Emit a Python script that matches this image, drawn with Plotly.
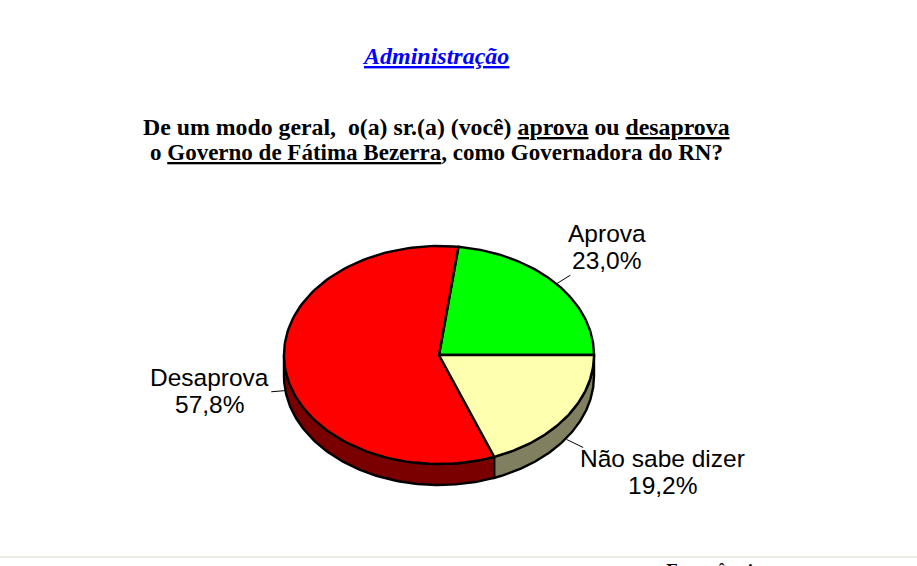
import math
import plotly.graph_objects as go

categories = ["Aprova", "Desaprova", "Não sabe dizer"]
values = [23.0, 57.8, 19.2]
value_labels = ["23,0%", "57,8%", "19,2%"]
top_colors = ["#00ff00", "#ff0000", "#ffffb0"]
side_colors = ["#007f00", "#7a0000", "#808060"]

W, H = 917, 566
CX, CY, RX, RY, DEPTH_PX = 439, 355, 155, 109, 21
DEPTH = DEPTH_PX / RY
x_range = [-CX / RX, (W - CX) / RX]
y_range = [-(H - CY) / RY, CY / RY]


def arc(a0, a1, dy=0.0, n=120):
    pts = [a0 + (a1 - a0) * i / n for i in range(n + 1)]
    return ([math.cos(math.radians(a)) for a in pts],
            [math.sin(math.radians(a)) + dy for a in pts])


fig = go.Figure()
angles = [0.0]
for v in values:
    angles.append(angles[-1] + v / sum(values) * 360)

# front wall of the disc
for i, cat in enumerate(categories):
    a0, a1 = max(angles[i], 180), min(angles[i + 1], 360)
    if a1 <= a0:
        continue
    xt, yt = arc(a0, a1)
    xb, yb = arc(a1, a0, -DEPTH)
    fig.add_trace(go.Scatter(x=xt + xb + xt[:1], y=yt + yb + yt[:1], mode="lines",
                             fill="toself", fillcolor=side_colors[i],
                             line=dict(color="black", width=2.4), hoverinfo="skip"))
# top slices
for i, cat in enumerate(categories):
    xa, ya = arc(angles[i], angles[i + 1])
    fig.add_trace(go.Scatter(x=[0] + xa + [0], y=[0] + ya + [0], mode="lines",
                             fill="toself", fillcolor=top_colors[i], name=cat,
                             line=dict(color="black", width=2.4)))

# leader lines from each slice's mid angle
leader_len = [1.13, 1.09, 1.13]
for i in range(3):
    m = math.radians((angles[i] + angles[i + 1]) / 2)
    dy = -DEPTH if math.sin(m) < 0 else 0
    c, s = math.cos(m), math.sin(m)
    k = leader_len[i]
    fig.add_trace(go.Scatter(x=[c, c * k], y=[s + dy - 0.015, s * k + dy - 0.015], mode="lines",
                             line=dict(color="black", width=1), hoverinfo="skip"))


def px_text(x, y, text, size, family, color="black", anchor="center"):
    fig.add_annotation(x=x / W, y=1 - y / H, xref="paper", yref="paper", text=text,
                       showarrow=False, xanchor=anchor, yanchor="middle",
                       font=dict(size=size, family=family, color=color))


sans = "Liberation Sans"
serif = "Liberation Serif"
label_pos = [(606.5, 233), (209.5, 377), (662.5, 458)]
for (x, y), c, v in zip(label_pos, categories, value_labels):
    px_text(x, y, c, 24.5, sans)
    px_text(x, y + 27.5, v, 24.5, sans)

px_text(435.5, 56, "<b><i><u>Administração</u></i></b>", 24, serif, "#0000ff")
px_text(436.5, 127, "<b>De um modo geral,  o(a) sr.(a) (você) <u>aprova</u> ou <u>desaprova</u></b>", 23.8, serif)
px_text(436.5, 152, "<b>o <u>Governo de Fátima Bezerra</u>, como Governadora do RN?</b>", 23, serif)
px_text(714, 569, "<b>Frequência</b>", 15.5, "DejaVu Serif")

fig.add_shape(type="line", xref="paper", yref="paper", x0=0, x1=1,
              y0=1 - 557 / H, y1=1 - 557 / H, line=dict(color="#dcdccc", width=1))

fig.update_layout(width=W, height=H, margin=dict(l=0, r=0, t=0, b=0), showlegend=False,
                  paper_bgcolor="white", plot_bgcolor="white",
                  xaxis=dict(range=x_range, visible=False, fixedrange=True),
                  yaxis=dict(range=y_range, visible=False, fixedrange=True))
fig.write_html("out.html", config={"displayModeBar": False},
               post_script="document.body.style.margin='0';")
